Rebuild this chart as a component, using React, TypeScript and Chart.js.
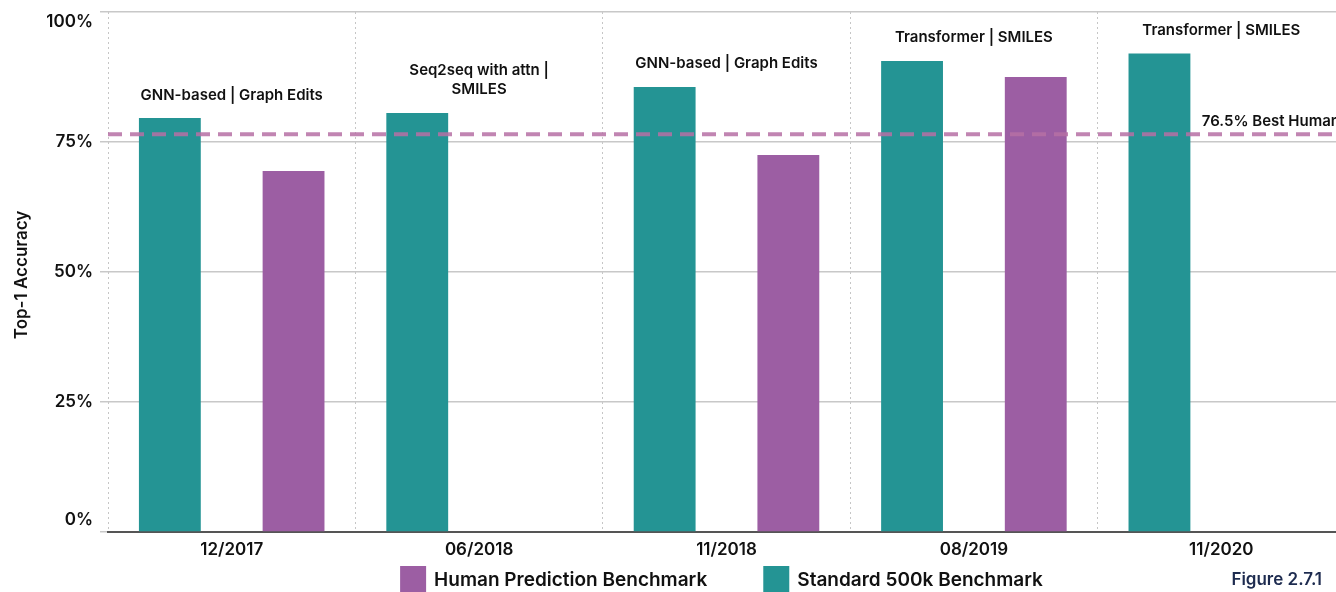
import React, { useEffect, useRef } from 'react';
import { Chart, registerables } from 'chart.js';

Chart.register(...registerables);

const categories = ['12/2017', '06/2018', '11/2018', '08/2019', '11/2020'];
const standardValues = [79.6, 80.6, 85.6, 90.6, 92.0];
const humanValues: (number | null)[] = [69.4, null, 72.5, 87.5, null];
const methodLabels: string[][] = [
  ['GNN-based | Graph Edits'],
  ['Seq2seq with attn |', 'SMILES'],
  ['GNN-based | Graph Edits'],
  ['Transformer | SMILES'],
  ['Transformer | SMILES'],
];
const yTicks = [0, 25, 50, 75, 100];
const bestHuman = 76.5;
const bestHumanLabel = '76.5% Best Human';
const standardLabel = 'Standard 500k Benchmark';
const humanLabel = 'Human Prediction Benchmark';
const yTitle = 'Top-1 Accuracy';
const figureLabel = 'Figure 2.7.1';

const TEAL = '#249494';
const PURPLE = '#9c5ea3';
const FONT = 'Inter, "Noto Sans", sans-serif';

export default function App() {
  const ref = useRef<HTMLCanvasElement>(null);

  useEffect(() => {
    document.body.style.overflow = 'hidden';
    const canvas = ref.current!;

    const overlay = {
      id: 'overlay',
      afterDatasetsDraw(chart: any) {
        const { ctx, chartArea } = chart;
        const y = chart.scales.y.getPixelForValue(bestHuman);
        ctx.save();
        ctx.strokeStyle = 'rgba(182,112,164,0.85)';
        ctx.lineWidth = 4;
        ctx.setLineDash([14, 8]);
        ctx.beginPath();
        ctx.moveTo(chartArea.left, y);
        ctx.lineTo(chartArea.right, y);
        ctx.stroke();
        ctx.restore();
      },
      afterDraw(chart: any) {
        const { ctx, chartArea } = chart;
        const ys = chart.scales.y;
        const xs = chart.scales.x;
        ctx.save();
        // y tick labels
        ctx.fillStyle = '#111';
        ctx.font = `600 17px ${FONT}`;
        ctx.textAlign = 'right';
        ctx.textBaseline = 'middle';
        yTicks.forEach((v) => {
          let y = ys.getPixelForValue(v);
          y = Math.min(Math.max(y, chartArea.top + 10), chartArea.bottom - 12);
          ctx.fillText(v + '%', chartArea.left - 15, y);
        });
        // y title
        ctx.save();
        ctx.translate(22, (chartArea.top + chartArea.bottom) / 2 + 3);
        ctx.rotate(-Math.PI / 2);
        ctx.textAlign = 'center';
        ctx.font = `600 17px ${FONT}`;
        ctx.fillText(yTitle, 0, 0);
        ctx.restore();
        // method labels
        const meta = chart.getDatasetMeta(0);
        ctx.font = `600 15px ${FONT}`;
        ctx.textAlign = 'center';
        ctx.textBaseline = 'middle';
        methodLabels.forEach((lines, i) => {
          const bar = meta.data[i];
          if (!bar) return;
          const cx = xs.getPixelForValue(i);
          const baseY = bar.y - 23;
          lines.forEach((line, j) => {
            ctx.fillText(line, cx, baseY - (lines.length - 1 - j) * 19);
          });
        });
        // best human label
        const hy = ys.getPixelForValue(bestHuman);
        ctx.font = `600 15px ${FONT}`;
        ctx.textAlign = 'right';
        ctx.fillText(bestHumanLabel, chartArea.right - 5, hy - 13);
        // legend
        const items = [
          { label: humanLabel, color: PURPLE },
          { label: standardLabel, color: TEAL },
        ];
        ctx.font = `600 19px ${FONT}`;
        const box = 26;
        const gap = 8;
        const itemGap = 56;
        const widths = items.map((it) => box + gap + ctx.measureText(it.label).width);
        const total = widths.reduce((a, b) => a + b, 0) + itemGap * (items.length - 1);
        let x = (chartArea.left + chartArea.right) / 2 - 5 - total / 2;
        const boxTop = chart.height - 26;
        ctx.textAlign = 'left';
        items.forEach((it, i) => {
          ctx.fillStyle = it.color;
          ctx.fillRect(x, boxTop, box, box);
          ctx.fillStyle = '#111';
          ctx.fillText(it.label, x + box + gap, boxTop + 14);
          x += widths[i] + itemGap;
        });
        // figure label
        ctx.font = `600 17px ${FONT}`;
        ctx.fillStyle = '#1d2b4f';
        ctx.textAlign = 'right';
        ctx.fillText(figureLabel, chart.width - 28, boxTop + 14);
        ctx.restore();
      },
    };

    const chart = new Chart(canvas, {
      type: 'bar',
      data: {
        labels: categories,
        datasets: [
          { label: standardLabel, data: standardValues, backgroundColor: TEAL },
          { label: humanLabel, data: humanValues as any, backgroundColor: PURPLE },
        ],
      },
      options: {
        responsive: false,
        animation: false,
        devicePixelRatio: 1,
        layout: { padding: { left: 8, top: 12, right: 5, bottom: 0 } },
        datasets: { bar: { categoryPercentage: 1.0, barPercentage: 0.5 } },
        plugins: { legend: { display: false }, tooltip: { enabled: false } },
        scales: {
          x: {
            grid: { color: '#c6c6c6', lineWidth: 1, drawTicks: false, offset: true },
            border: { color: '#555', width: 2, dash: [2, 3] },
            ticks: { color: '#111', font: { family: FONT, size: 17, weight: '600' }, padding: 8 },
            afterFit: (s: any) => { s.height = 60; },
          },
          y: {
            min: 0,
            max: 100,
            ticks: { stepSize: 25, display: false },
            grid: { color: '#c8c8c8', lineWidth: 1.5, tickLength: 8 },
            border: { display: false },
            afterFit: (s: any) => { s.width = 100; },
          },
        },
      } as any,
      plugins: [overlay],
    });
    return () => chart.destroy();
  }, []);

  return (
    <div style={{ position: 'fixed', left: 0, top: 0, width: 1350, height: 592, background: '#fff' }}>
      <canvas ref={ref} width={1350} height={592} />
    </div>
  );
}
